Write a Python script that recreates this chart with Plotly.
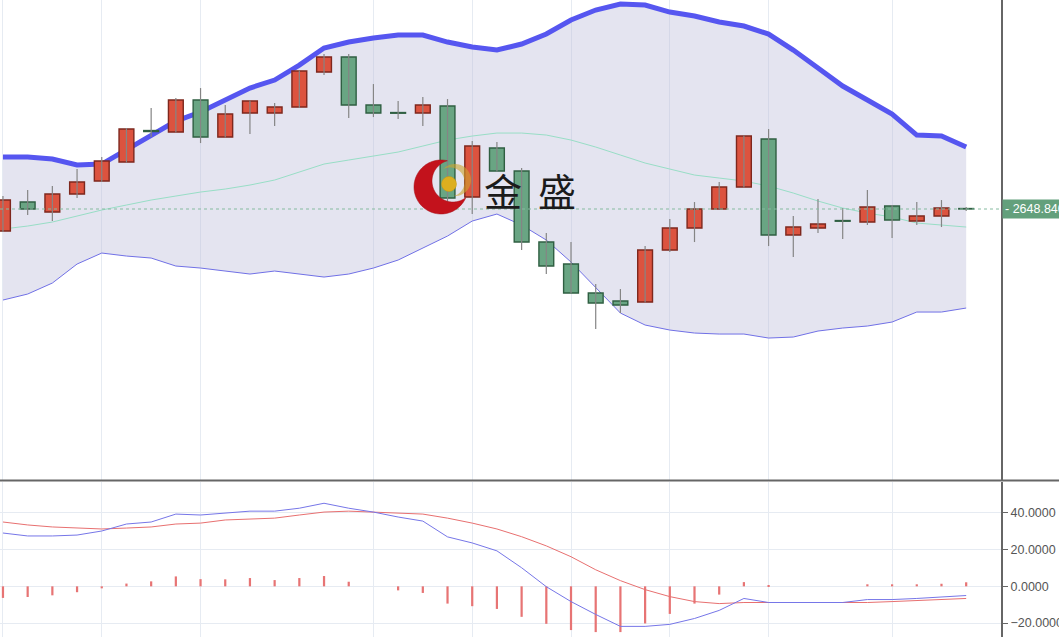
import numpy as np
import plotly.graph_objects as go

# ---- daily candles -------------------------------------------------------
dates = [
    "2024-10-11", "2024-10-14", "2024-10-15", "2024-10-16", "2024-10-17",
    "2024-10-18", "2024-10-21", "2024-10-22", "2024-10-23", "2024-10-24",
    "2024-10-25", "2024-10-28", "2024-10-29", "2024-10-30", "2024-10-31",
    "2024-11-01", "2024-11-04", "2024-11-05", "2024-11-06", "2024-11-07",
    "2024-11-08", "2024-11-11", "2024-11-12", "2024-11-13", "2024-11-14",
    "2024-11-15", "2024-11-18", "2024-11-19", "2024-11-20", "2024-11-21",
    "2024-11-22", "2024-11-25", "2024-11-26", "2024-11-27", "2024-11-28",
    "2024-11-29", "2024-12-02", "2024-12-03", "2024-12-04", "2024-12-05",
]
open_ = [2626.8, 2655.8, 2645.8, 2663.8, 2676.8, 2695.8, 2727.3, 2725.8, 2757.8, 2720.8,
         2744.8, 2744.8, 2750.8, 2785.8, 2800.8, 2752.8, 2745.3, 2744.8, 2751.8, 2660.8,
         2709.8, 2686.8, 2615.8, 2593.8, 2564.8, 2556.8, 2555.8, 2607.8, 2629.8, 2648.8,
         2670.8, 2718.8, 2622.8, 2629.8, 2637.3, 2635.8, 2651.8, 2636.8, 2641.8, 2649.3]
high = [2661.8, 2667.8, 2671.8, 2688.8, 2700.8, 2729.8, 2749.8, 2759.8, 2769.8, 2752.8,
        2757.3, 2754.8, 2787.3, 2803.8, 2803.8, 2773.8, 2756.8, 2760.8, 2758.8, 2716.8,
        2715.8, 2689.8, 2624.8, 2615.8, 2573.8, 2568.8, 2611.8, 2638.8, 2655.8, 2675.8,
        2722.3, 2728.8, 2641.8, 2658.8, 2649.8, 2667.8, 2652.8, 2655.8, 2657.8, 2650.8]
low = [2625.8, 2642.8, 2636.8, 2659.8, 2675.8, 2695.3, 2720.8, 2725.3, 2714.8, 2720.3,
       2723.8, 2731.8, 2749.8, 2782.8, 2739.8, 2740.8, 2738.8, 2731.8, 2655.8, 2643.8,
       2686.3, 2607.8, 2583.8, 2564.3, 2528.8, 2544.8, 2555.3, 2605.8, 2615.8, 2648.3,
       2670.3, 2611.8, 2600.8, 2624.8, 2618.8, 2632.8, 2619.8, 2632.8, 2630.8, 2646.8]
close = [2657.8, 2648.8, 2663.8, 2675.8, 2696.8, 2728.8, 2726.3, 2757.8, 2720.8, 2743.8,
         2756.8, 2750.8, 2786.8, 2800.8, 2752.8, 2744.8, 2744.6, 2752.8, 2659.8, 2711.8,
         2686.8, 2615.8, 2591.8, 2564.8, 2554.8, 2552.8, 2607.8, 2629.8, 2648.8, 2670.8,
         2721.8, 2622.8, 2630.8, 2633.8, 2636.6, 2650.8, 2637.8, 2641.8, 2649.8, 2648.84]
last_price = 2648.84

# ---- Bollinger bands -----------------------------------------------------
boll_upper = [2700.8, 2700.8, 2698.8, 2692.8, 2693.8, 2707.8, 2721.8, 2736.8, 2745.8, 2757.8,
              2769.8, 2777.8, 2792.8, 2809.8, 2815.8, 2819.8, 2822.8, 2822.8, 2815.8, 2810.8,
              2807.8, 2813.8, 2823.8, 2837.8, 2847.8, 2853.8, 2852.8, 2845.8, 2841.8, 2835.8,
              2831.8, 2823.8, 2807.8, 2789.8, 2771.8, 2757.8, 2743.8, 2722.8, 2721.8, 2710.8]
boll_mid = [2628.8, 2631.8, 2635.8, 2641.8, 2647.8, 2652.8, 2657.8, 2661.8, 2665.8, 2668.8,
            2672.8, 2677.8, 2685.8, 2693.8, 2697.8, 2701.8, 2705.8, 2711.8, 2717.8, 2721.8,
            2724.8, 2724.8, 2722.8, 2717.8, 2710.8, 2702.8, 2694.8, 2688.8, 2682.8, 2679.8,
            2676.8, 2671.8, 2664.8, 2656.8, 2649.8, 2644.8, 2640.8, 2634.8, 2632.8, 2630.8]
boll_lower = [2557.8, 2563.8, 2574.8, 2593.8, 2604.8, 2601.8, 2599.8, 2591.8, 2589.8, 2586.8,
              2583.8, 2586.8, 2583.8, 2580.8, 2583.8, 2589.8, 2597.8, 2609.8, 2621.8, 2636.8,
              2643.8, 2632.8, 2617.8, 2595.8, 2570.8, 2544.8, 2532.8, 2527.8, 2524.8, 2523.8,
              2523.8, 2519.8, 2520.8, 2526.8, 2529.8, 2531.8, 2535.8, 2545.8, 2545.8, 2549.8]

# ---- MACD ----------------------------------------------------------------
macd_dif = [29.0, 27.4, 27.4, 27.9, 30.1, 33.9, 35.0, 39.3, 38.8, 39.8,
            40.9, 40.9, 42.5, 45.2, 42.5, 40.4, 37.7, 35.5, 26.9, 23.6,
            19.3, 10.1, -0.2, -8.3, -15.3, -21.8, -21.8, -20.7, -17.5, -13.1,
            -6.6, -8.8, -8.8, -8.8, -8.8, -7.2, -7.2, -6.6, -5.6, -5.0]
macd_dea = [35.0, 33.4, 32.3, 31.7, 31.2, 31.7, 32.3, 33.9, 34.4, 36.1,
            36.6, 37.1, 38.8, 40.4, 40.9, 40.4, 39.8, 39.3, 37.1, 34.4,
            31.2, 27.0, 22.0, 16.1, 9.0, 3.1, -1.8, -5.6, -8.3, -9.4,
            -8.8, -8.8, -8.8, -8.8, -8.8, -8.8, -8.3, -7.7, -7.2, -6.6]
macd_hist = [-6.3, -5.8, -4.9, -3.2, -1.1, 1.5, 2.7, 5.4, 3.9, 3.8,
             4.5, 3.4, 4.5, 5.6, 2.5, 0.0, -2.2, -3.6, -9.4, -10.8,
             -12.3, -16.6, -20.4, -23.8, -24.9, -24.9, -20.2, -15.0, -9.4, -4.5,
             2.3, 0.3, 0.0, 0.0, 0.0, 1.1, 1.1, 1.1, 1.4, 2.2]
macd_ticks = [-20, 0, 20, 40]

grid_dates = ["2024-10-11", "2024-10-17", "2024-10-23", "2024-11-01", "2024-11-07",
              "2024-11-13", "2024-11-19", "2024-11-25", "2024-12-02"]

# ---- styling -------------------------------------------------------------
W, H = 1059, 637
X_RIGHT = 1001 / W            # right edge of the plotting panes
UP_FILL, UP_LINE = "#dc533f", "#7e271d"
DN_FILL, DN_LINE = "#69a583", "#2f5f42"
GRID = "#e6ebf2"
AXIS = "#666666"
TICK_FONT = dict(family="Liberation Sans, Arial, sans-serif", size=12.5, color="#555555")
PRICE_RANGE = [2377.84, 2857.84]
X_RANGE = [-0.12, 40.41]

fig = go.Figure()

# Bollinger band envelope (base price pane)
fig.add_trace(go.Scatter(x=dates, y=boll_lower, mode="lines",
                         line=dict(color="#7070e6", width=1), hoverinfo="skip"))
fig.add_trace(go.Scatter(x=dates, y=boll_upper, mode="lines", fill="tonexty",
                         fillcolor="rgba(188,188,218,0.40)",
                         line=dict(color="#5656f0", width=5), hoverinfo="skip"))
fig.add_trace(go.Scatter(x=dates, y=boll_mid, mode="lines",
                         line=dict(color="#98dec6", width=1), hoverinfo="skip"))

# candles live on an overlaid axis pair so they sit above the band fill
wick_x, wick_y = [], []
for d, lo, hi in zip(dates, low, high):
    wick_x += [d, d, None]
    wick_y += [lo, hi, None]
fig.add_trace(go.Scatter(x=wick_x, y=wick_y, mode="lines", xaxis="x3", yaxis="y3",
                         line=dict(color="#858585", width=1.2), hoverinfo="skip"))

rising = [c >= o for o, c in zip(open_, close)]
fig.add_trace(go.Bar(
    x=dates,
    y=[abs(c - o) for o, c in zip(open_, close)],
    base=[min(o, c) for o, c in zip(open_, close)],
    width=0.6, xaxis="x3", yaxis="y3",
    marker=dict(color=[UP_FILL if r else DN_FILL for r in rising],
                line=dict(color=[UP_LINE if r else DN_LINE for r in rising], width=1.4)),
    hoverinfo="skip",
))

# MACD pane
fig.add_trace(go.Bar(x=dates, y=macd_hist, width=0.09, marker=dict(color="#e77474", line=dict(width=0)),
                     xaxis="x2", yaxis="y2", hoverinfo="skip"))
fig.add_trace(go.Scatter(x=dates, y=macd_dea, mode="lines", line=dict(color="#e87070", width=1),
                         xaxis="x2", yaxis="y2", hoverinfo="skip"))
fig.add_trace(go.Scatter(x=dates, y=macd_dif, mode="lines", line=dict(color="#7676e8", width=1),
                         xaxis="x2", yaxis="y2", hoverinfo="skip"))

common_x = dict(type="category", categoryorder="array", categoryarray=dates,
                range=X_RANGE, showticklabels=False, tickmode="array",
                tickvals=grid_dates, showgrid=True, gridcolor=GRID, gridwidth=1,
                zeroline=False, showline=False, ticks="", automargin=False)

main_bottom = 1 - 480 / H
macd_top = 1 - 482 / H

fig.update_layout(
    width=W, height=H,
    margin=dict(l=0, r=0, t=0, b=0),
    paper_bgcolor="white", plot_bgcolor="white",
    showlegend=False, barmode="overlay", hovermode=False,
    xaxis=dict(domain=[0, X_RIGHT], anchor="y", **common_x),
    xaxis2=dict(domain=[0, X_RIGHT], anchor="y2", **common_x),
    xaxis3=dict(domain=[0, X_RIGHT], anchor="y3", overlaying="x", type="category",
                categoryorder="array", categoryarray=dates, range=X_RANGE,
                visible=False, showgrid=False, zeroline=False),
    yaxis=dict(domain=[main_bottom, 1], range=PRICE_RANGE, side="right",
               showticklabels=False, showgrid=False, zeroline=False, ticks="",
               showline=True, linecolor=AXIS, linewidth=2, automargin=False),
    yaxis3=dict(domain=[main_bottom, 1], anchor="x3", overlaying="y", range=PRICE_RANGE,
                visible=False, showgrid=False, zeroline=False),
    yaxis2=dict(domain=[0, macd_top], range=[-27.57, 56.76], side="right",
                tickmode="array", tickvals=macd_ticks, tickformat=".4f",
                ticks="outside", ticklen=5, tickcolor=AXIS, tickfont=TICK_FONT,
                showgrid=True, gridcolor=GRID, zeroline=False,
                showline=True, linecolor=AXIS, linewidth=2, automargin=False),
)

# pane separator and last-price guide
fig.add_shape(type="line", xref="paper", yref="paper", x0=0, x1=1,
              y0=1 - 480.5 / H, y1=1 - 480.5 / H, line=dict(color=AXIS, width=2))
fig.add_shape(type="line", xref="paper", yref="y", x0=0, x1=X_RIGHT,
              y0=last_price, y1=last_price, line=dict(color="#86bba0", width=1, dash="dot"))
fig.add_annotation(xref="paper", yref="y", x=1002 / W, y=last_price, xanchor="left",
                   yanchor="middle", text=f"- {last_price:.3f}", showarrow=False,
                   bgcolor="#63a07c", borderpad=2,
                   font=dict(family="Liberation Sans, Arial, sans-serif", size=12.5, color="white"))


# ---- brand mark ----------------------------------------------------------
def to_paper(px, py):
    return np.asarray(px) / W, 1 - np.asarray(py) / H


def crescent_path(cx, cy, R, ix, iy, r, n=72):
    dx, dy = ix - cx, iy - cy
    dist = np.hypot(dx, dy)
    phi = np.arctan2(dy, dx)
    a = (R * R - r * r + dist * dist) / (2 * dist)
    h = np.sqrt(R * R - a * a)
    alpha = np.arctan2(h, a)
    beta = np.arctan2(h, a - dist)
    t_out = np.linspace(phi + alpha, phi + 2 * np.pi - alpha, n)
    t_in = np.linspace(phi + 2 * np.pi - beta, phi + beta, n)
    xs = np.concatenate([cx + R * np.cos(t_out), ix + r * np.cos(t_in)])
    ys = np.concatenate([cy + R * np.sin(t_out), iy + r * np.sin(t_in)])
    px, py = to_paper(xs, ys)
    pts = [f"{x:.5f},{y:.5f}" for x, y in zip(px, py)]
    return "M " + " L ".join(pts) + " Z"


fig.add_shape(type="path", xref="paper", yref="paper",
              path=crescent_path(441, 187, 27, 453, 181, 21),
              fillcolor="#c3121c", line=dict(color="#a50e16", width=0.5))
fig.add_shape(type="path", xref="paper", yref="paper",
              path=crescent_path(455, 180, 16, 450, 182, 14.5),
              fillcolor="rgba(205,165,45,0.6)", line=dict(width=0))
bx0, by0 = to_paper(449 - 7.5, 184 + 7.5)
bx1, by1 = to_paper(449 + 7.5, 184 - 7.5)
fig.add_shape(type="circle", xref="paper", yref="paper", x0=bx0, y0=by0, x1=bx1, y1=by1,
              fillcolor="#dcaf1f", line=dict(color="#c49712", width=0.5))

for ch, cxp in (("金", 503), ("盛", 557)):
    tx, ty = to_paper(cxp, 189)
    fig.add_annotation(xref="paper", yref="paper", x=float(tx), y=float(ty),
                       xanchor="center", yanchor="middle", text=ch, showarrow=False,
                       font=dict(family="Noto Sans CJK SC", size=38, color="#1b1b1b"))

fig.write_html("out.html")
